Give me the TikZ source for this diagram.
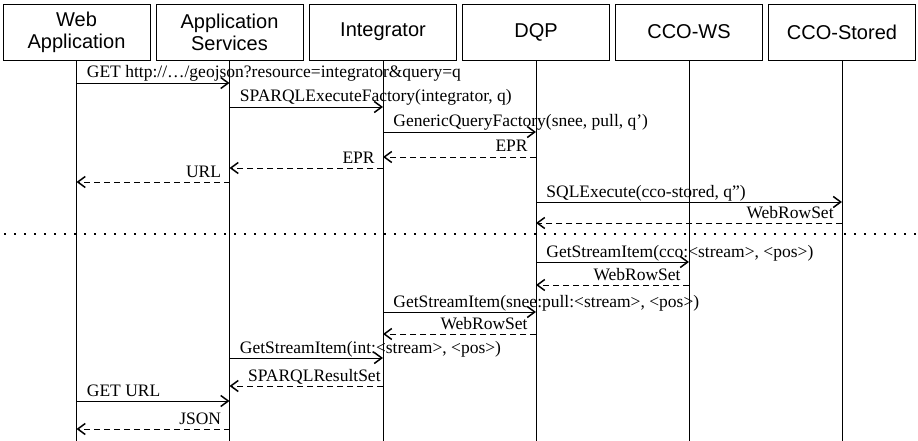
\documentclass[tikz,border=0pt]{standalone}
\usepackage{fontspec}
\setmainfont{Liberation Serif}
\newfontfamily\headfont{Liberation Sans}
\usetikzlibrary{calc}
\usetikzlibrary{arrows.meta}

\begin{document}
\begin{tikzpicture}[x=1pt,y=-1pt,
  head/.style={draw,line width=0.8pt,minimum width=147pt,minimum height=56pt,align=center,inner sep=0pt,
    font=\headfont\fontsize{20}{22}\selectfont},
  life/.style={line width=0.8pt},
  msg/.style={line width=0.8pt,-{Straight Barb[length=7.5pt,width=11pt,line width=1.5pt]}},
  reply/.style={msg,dash pattern=on 6pt off 4pt},
  fwd/.style={pos=0,anchor=base west,xshift=10pt,yshift=5pt,inner sep=0pt,font=\fontsize{17.5}{20}\selectfont},
  back/.style={pos=0,anchor=base east,xshift=-8pt,yshift=5pt,inner sep=0pt,font=\fontsize{17.5}{20}\selectfont}]

\useasboundingbox (0,0) rectangle (918,441);

% participants
\node[head] (web) at (76.5,32) {Web\\Application};
\node[head] (apps) at (229.5,32) {Application\\Services};
\node[head] (integ) at (383,32) {Integrator};
\node[head] (dqp) at (536,32) {DQP};
\node[head] (ccows) at (689,32) {CCO-WS};
\node[head] (ccost) at (842,32) {CCO-Stored};

\draw[life] (web.south) -- (web.south |- 0,441);
\draw[life] (apps.south) -- (apps.south |- 0,441);
\draw[life] (integ.south) -- (integ.south |- 0,441);
\draw[life] (dqp.south) -- (dqp.south |- 0,441);
\draw[life] (ccows.south) -- (ccows.south |- 0,441);
\draw[life] (ccost.south) -- (ccost.south |- 0,441);

% setup
\draw[msg] (web |- 0,83) -- node[fwd] {GET http://…/geojson?resource=integrator\&query=q} (apps |- 0,83);
\draw[msg] (apps |- 0,107) -- node[fwd] {SPARQLExecuteFactory(integrator, q)} (integ |- 0,107);
\draw[msg] (integ |- 0,132) -- node[fwd] {GenericQueryFactory(snee, pull, q’)} (dqp |- 0,132);
\draw[reply] (dqp |- 0,157) -- node[back] {EPR} (integ |- 0,157);
\draw[reply] (integ |- 0,168) -- node[back] {EPR} (apps |- 0,168);
\draw[reply] (apps |- 0,182) -- node[back] {URL} (web |- 0,182);
\draw[msg] (dqp |- 0,202) -- node[fwd] {SQLExecute(cco-stored, q”)} (ccost |- 0,202);
\draw[reply] (ccost |- 0,223) -- node[back] {WebRowSet} (dqp |- 0,223);

\coordinate (sepL) at (0,234);
\coordinate (sepR) at (918,234);
\draw[line width=2pt,dash pattern=on 2pt off 8pt] ($(sepL)+(4,0)$) -- (sepR);

% streaming
\draw[msg] (dqp |- 0,262) -- node[fwd] {GetStreamItem(cco:<stream>, <pos>)} (ccows |- 0,262);
\draw[reply] (ccows |- 0,285) -- node[back] {WebRowSet} (dqp |- 0,285);
\draw[msg] (integ |- 0,312) -- node[fwd] {GetStreamItem(snee:pull:<stream>, <pos>)} (dqp |- 0,312);
\draw[reply] (dqp |- 0,334) -- node[back] {WebRowSet} (integ |- 0,334);
\draw[msg] (apps |- 0,358) -- node[fwd] {GetStreamItem(int:<stream>, <pos>)} (integ |- 0,358);
\draw[reply] (integ |- 0,386) -- node[back,xshift=6pt] {SPARQLResultSet} (apps |- 0,386);
\draw[msg] (web |- 0,401) -- node[fwd] {GET URL} (apps |- 0,401);
\draw[reply] (apps |- 0,429) -- node[back] {JSON} (web |- 0,429);

\end{tikzpicture}
\end{document}
